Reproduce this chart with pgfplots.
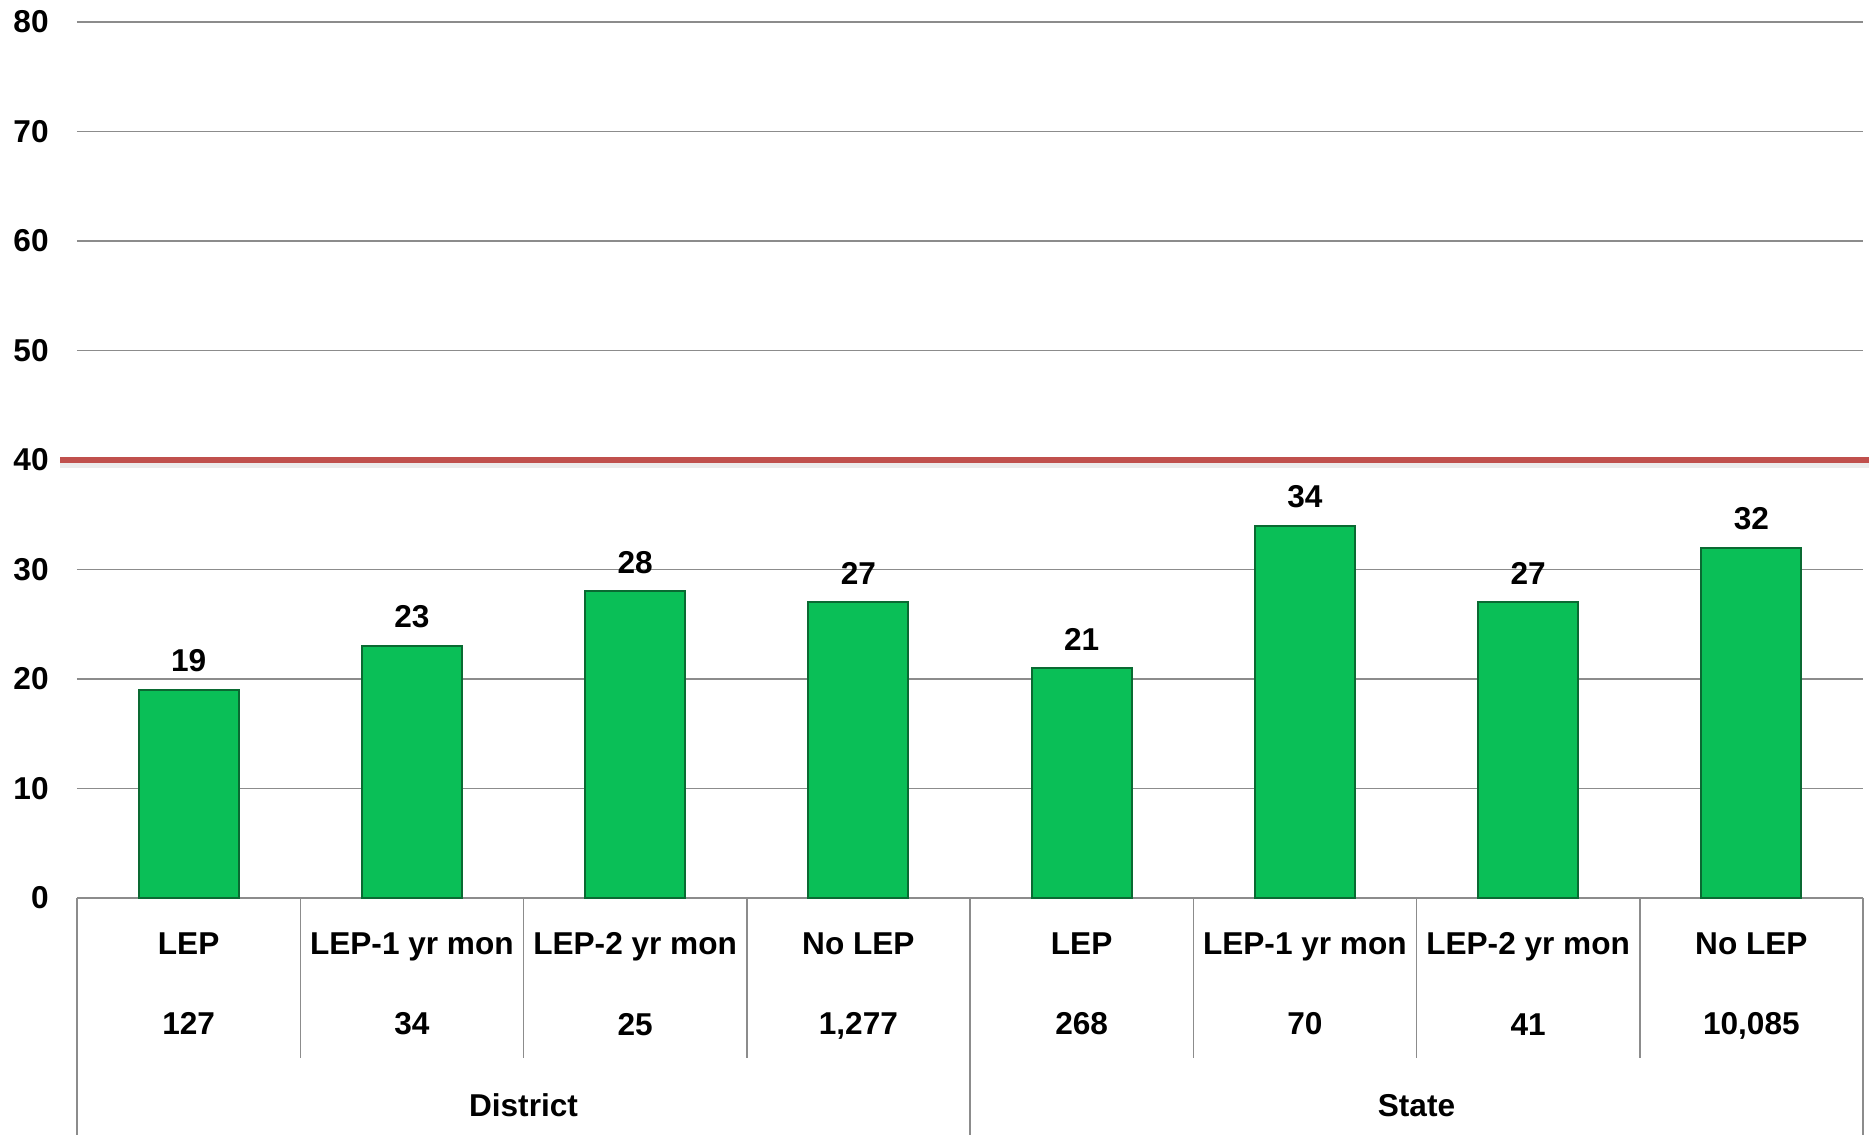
\documentclass[border=0pt]{standalone}
\usepackage{fontspec}
\setmainfont{Liberation Sans}
\usepackage{pgfplots}
\pgfplotsset{compat=1.18}

\definecolor{barg}{HTML}{0ABF57}
\definecolor{bardk}{HTML}{0A6A32}
\definecolor{redline}{HTML}{C0504D}
\definecolor{gridg}{HTML}{8C8C8C}
\newcommand\lf{\fontsize{15.8}{19}\selectfont\bfseries}

\begin{document}
\begin{tikzpicture}
\begin{axis}[
    scale only axis,
    width=893pt, height=438pt,
    xmin=-0.5, xmax=7.5,
    ymin=0, ymax=80,
    clip=false,
    axis line style={draw=none},
    tick style={draw=none},
    ytick={0,10,...,80},
    ymajorgrids=true,
    grid style={gridg, line width=0.75pt},
    xtick={0,...,7},
    xticklabels={{LEP\\127},{LEP-1 yr mon\\34},{LEP-2 yr mon\\25},{No LEP\\1,277},
                 {LEP\\268},{LEP-1 yr mon\\70},{LEP-2 yr mon\\41},{No LEP\\10,085}},
    xticklabel style={font=\fontsize{15.8}{40.35}\selectfont\bfseries, align=center,
                      inner sep=0pt, anchor=north, yshift=-17pt},
    yticklabel style={font=\lf, inner sep=0pt, anchor=east, xshift=-14pt},
    /pgf/number format/assume math mode=true,
]
% soft shadow and target line at 40
\addplot[gray!15, line width=3pt, yshift=-2.5pt, forget plot] coordinates {(-0.576,40) (7.53,40)};
\addplot[redline, line width=3.3pt, forget plot] coordinates {(-0.576,40) (7.53,40)};

\addplot[ybar, bar width=50pt, fill=barg, draw=bardk, line width=1pt,
    nodes near coords,
    nodes near coords style={font=\lf, inner sep=0pt, yshift=8.5pt}]
    coordinates {
        (0,19) (1,23) (2,28) (3,27)
        (4,21) (5,34) (6,27) (7,32)
    };
\end{axis}

% table lines below the axis
\foreach \k in {1,2,3,5,6,7}
    \draw[gridg, line width=0.75pt] (\k*111.625pt,0) -- ++(0,-80pt);
\foreach \k in {0,4,8}
    \draw[gridg, line width=0.75pt] (\k*111.625pt,0) -- ++(0,-125pt);
\node[font=\lf, anchor=base] at (223.25pt,-109.3pt) {District};
\node[font=\lf, anchor=base] at (669.75pt,-109.3pt) {State};

\pgfresetboundingbox
\useasboundingbox (-38.5pt,-118.5pt) rectangle (896pt,449pt);
\end{tikzpicture}
\end{document}
